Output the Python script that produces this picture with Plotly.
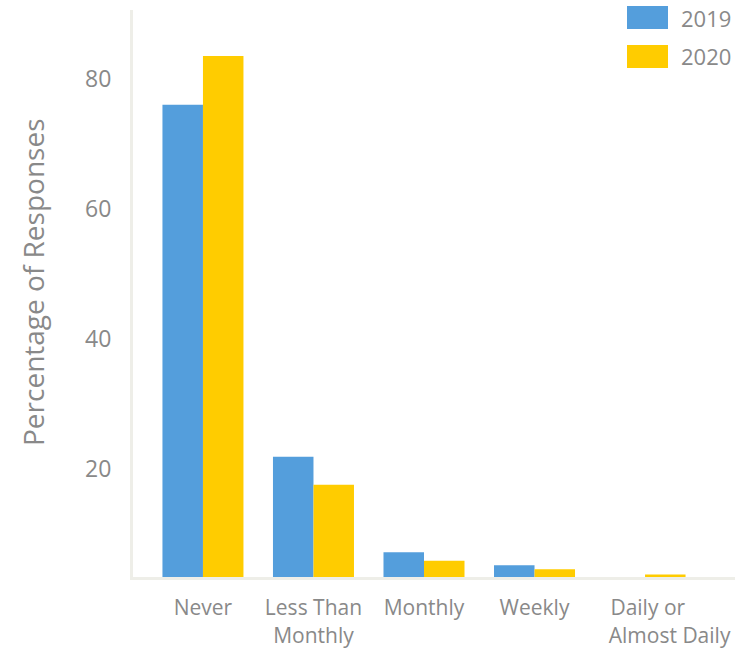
import plotly.graph_objects as go

NBSP = "&nbsp;"

# Response frequency categories and share of responses (%) per survey year
categories = [
    "Never",
    "Less Than<br>Monthly",
    "Monthly",
    "Weekly",
    NBSP + "Daily or<br>" + NBSP * 9 + "Almost Daily",
]
values_2019 = [76.0, 21.8, 7.1, 5.1, 3.3]
values_2020 = [83.5, 17.5, 5.8, 4.5, 3.7]
series_names = ["2019", "2020"]
y_ticks = [20, 40, 60, 80]
y_title = "Percentage of Responses"

BLUE = "#549EDC"
YELLOW = "#FFCC00"
GRAY = "#898989"
AXIS = "#EEEEE8"
FONT = "Open Sans"

W, H = 744, 652
ML, MR, MT, MB = 133, 9, 10, 75
PW, PH = W - ML - MR, H - MT - MB

fig = go.Figure()
fig.add_trace(go.Bar(x=categories, y=values_2019, name=series_names[0],
                     marker=dict(color=BLUE, line=dict(width=0)), showlegend=False))
fig.add_trace(go.Bar(x=categories, y=values_2020, name=series_names[1],
                     marker=dict(color=YELLOW, line=dict(width=0)), showlegend=False))


def px_x(px):
    return (px - ML) / PW


def px_y(px):
    return (H - MB - px) / PH


# Legend drawn as large colour swatches in the top-right corner
legend_rows = [(series_names[0], BLUE), (series_names[1], YELLOW)]
for i, (label, color) in enumerate(legend_rows):
    top, bot = 6 + 39 * i, 29 + 39 * i
    fig.add_shape(type="rect", xref="paper", yref="paper",
                  x0=px_x(627), x1=px_x(668), y0=px_y(bot), y1=px_y(top),
                  fillcolor=color, line=dict(width=0))
    fig.add_annotation(xref="paper", yref="paper", x=px_x(679),
                       y=px_y((top + bot) / 2), text=label, showarrow=False,
                       xanchor="left", yanchor="middle",
                       font=dict(family=FONT, size=22, color=GRAY))

# Vertical y-axis title
fig.add_annotation(xref="paper", yref="paper", x=px_x(33), y=px_y(282),
                   text=y_title, textangle=-90, showarrow=False,
                   xanchor="center", yanchor="middle",
                   font=dict(family=FONT, size=28, color=GRAY))

fig.update_layout(
    width=W, height=H,
    margin=dict(l=ML, r=MR, t=MT, b=MB, autoexpand=False),
    paper_bgcolor="white", plot_bgcolor="white",
    barmode="group", bargap=0.267, bargroupgap=0,
    font=dict(family=FONT, color=GRAY),
    xaxis=dict(
        type="category", range=[-0.633, 4.814],
        showline=True, linecolor=AXIS, linewidth=3,
        showgrid=False, ticks="", ticklabelstandoff=10,
        tickangle=0, automargin=False,
        tickfont=dict(size=21, color=GRAY),
    ),
    yaxis=dict(
        range=[3.3, 90.6], tickvals=y_ticks,
        showline=True, linecolor=AXIS, linewidth=3,
        showgrid=False, zeroline=False, ticks="",
        ticklabelstandoff=14, automargin=False,
        tickfont=dict(size=23, color=GRAY),
    ),
)

fig.write_html("out.html")
